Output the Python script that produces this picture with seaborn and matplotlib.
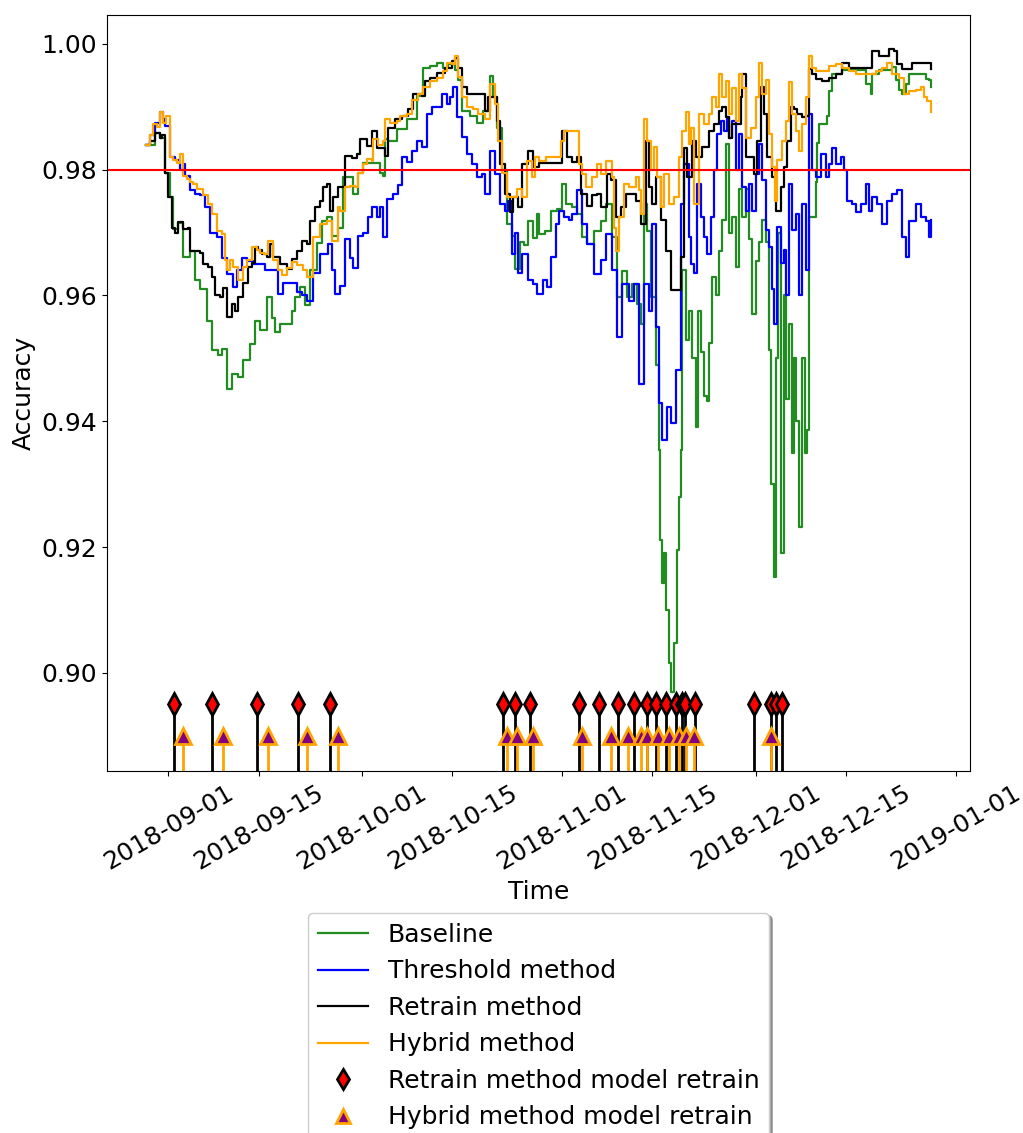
import numpy as np
import pandas as pd
import matplotlib
matplotlib.use("Agg")
import matplotlib.pyplot as plt
import matplotlib.dates as mdates
import seaborn as sns

# Rolling accuracy of the four strategies; times are days after 2018-09-01
START = pd.Timestamp("2018-09-01")

baseline_days = [
    -3.40, -2.01, -1.24, -0.46, 0.31, 0.77, 1.55, 2.32, 3.40, 4.18,
    4.95, 6.03, 6.80, 7.73, 8.35, 9.12, 9.90, 10.82, 11.60, 12.68,
    13.45, 14.23, 15.31, 16.08, 16.55, 17.32, 18.40, 19.17, 19.64, 20.41,
    21.18, 21.96, 23.04, 23.81, 24.59, 25.36, 26.29, 27.06, 27.83, 28.61,
    29.38, 30.15, 31.70, 32.78, 33.25, 33.55, 34.02, 35.41, 36.96, 38.50,
    39.43, 40.51, 41.60, 42.52, 43.30, 44.38, 44.84, 45.46, 46.70, 47.78,
    48.71, 49.79, 50.25, 50.87, 51.65, 52.42, 53.19, 53.66, 54.43, 55.20,
    55.67, 56.44, 57.06, 57.52, 58.30, 59.38, 60.31, 61.08, 61.70, 62.63,
    63.40, 64.17, 64.95, 66.03, 67.11, 67.88, 68.35, 68.81, 69.58, 70.36,
    71.13, 71.90, 72.68, 73.29, 73.76, 74.22, 74.84, 75.62, 76.08, 76.23,
    76.54, 76.85, 77.16, 77.63, 77.93, 78.40, 78.86, 79.17, 79.48, 79.64,
    80.26, 80.72, 81.19, 81.80, 82.11, 82.58, 83.04, 83.50, 83.81, 84.27,
    84.89, 85.36, 85.82, 86.44, 86.90, 87.37, 87.99, 88.45, 88.92, 89.53,
    90.00, 90.46, 91.08, 91.55, 92.01, 92.63, 93.09, 93.40, 93.87, 94.17,
    94.48, 94.95, 95.41, 95.72, 96.18, 96.64, 96.95, 97.26, 97.72, 98.19,
    98.65, 98.96, 99.27, 99.74, 100.36, 100.51, 100.82, 101.60, 102.06, 102.37,
    102.83, 103.61, 104.38, 105.46, 106.54, 107.47, 108.09, 108.86, 109.02, 110.10,
    111.18, 112.11, 112.73, 113.19, 113.65, 114.27, 114.73, 115.82, 116.74, 117.36,
    117.83, 118.14]
baseline_acc = [
    0.9840, 0.9859, 0.9850, 0.9794, 0.9756, 0.9705, 0.9715, 0.9661, 0.9671, 0.9624,
    0.9610, 0.9560, 0.9513, 0.9505, 0.9515, 0.9452, 0.9475, 0.9470, 0.9497, 0.9523,
    0.9560, 0.9545, 0.9597, 0.9565, 0.9542, 0.9555, 0.9555, 0.9575, 0.9597, 0.9613,
    0.9585, 0.9640, 0.9683, 0.9719, 0.9724, 0.9695, 0.9708, 0.9788, 0.9788, 0.9762,
    0.9795, 0.9810, 0.9810, 0.9795, 0.9790, 0.9849, 0.9845, 0.9865, 0.9880, 0.9917,
    0.9962, 0.9965, 0.9970, 0.9962, 0.9968, 0.9959, 0.9942, 0.9894, 0.9885, 0.9874,
    0.9894, 0.9949, 0.9915, 0.9867, 0.9800, 0.9714, 0.9695, 0.9642, 0.9685, 0.9680,
    0.9719, 0.9692, 0.9730, 0.9698, 0.9703, 0.9735, 0.9738, 0.9777, 0.9745, 0.9740,
    0.9730, 0.9693, 0.9682, 0.9703, 0.9719, 0.9746, 0.9746, 0.9693, 0.9597, 0.9639,
    0.9597, 0.9618, 0.9586, 0.9555, 0.9746, 0.9703, 0.9597, 0.9490, 0.9354, 0.9211,
    0.9143, 0.9190, 0.9100, 0.9016, 0.8970, 0.9048, 0.9195, 0.9280, 0.9354, 0.9640,
    0.9530, 0.9576, 0.9500, 0.9391, 0.9575, 0.9510, 0.9440, 0.9433, 0.9525, 0.9630,
    0.9600, 0.9671, 0.9720, 0.9841, 0.9700, 0.9725, 0.9645, 0.9770, 0.9725, 0.9770,
    0.9690, 0.9571, 0.9655, 0.9685, 0.9720, 0.9685, 0.9513, 0.9300, 0.9153, 0.9500,
    0.9700, 0.9190, 0.9600, 0.9435, 0.9555, 0.9350, 0.9500, 0.9400, 0.9232, 0.9500,
    0.9350, 0.9386, 0.9724, 0.9724, 0.9780, 0.9842, 0.9873, 0.9873, 0.9885, 0.9925,
    0.9952, 0.9952, 0.9958, 0.9958, 0.9958, 0.9958, 0.9937, 0.9920, 0.9952, 0.9958,
    0.9958, 0.9963, 0.9942, 0.9926, 0.9920, 0.9937, 0.9952, 0.9952, 0.9952, 0.9944,
    0.9942, 0.9931]

threshold_days = [
    -3.40, -2.78, -2.01, -1.24, -0.77, -0.46, 0.31, 1.08, 1.86, 2.32,
    2.63, 3.40, 4.18, 4.95, 5.72, 6.49, 7.58, 8.35, 9.12, 10.05,
    10.67, 11.44, 12.22, 13.14, 14.23, 15.00, 15.77, 17.01, 17.78, 19.17,
    19.95, 20.72, 21.49, 22.42, 23.50, 24.74, 25.36, 25.82, 26.60, 27.37,
    28.14, 28.61, 29.38, 30.15, 30.93, 31.54, 32.32, 32.78, 33.25, 33.86,
    34.79, 35.56, 36.18, 36.96, 37.73, 38.50, 39.28, 40.05, 40.82, 41.60,
    42.37, 43.14, 43.61, 44.07, 44.69, 45.46, 46.23, 47.01, 47.78, 48.55,
    49.02, 49.79, 50.56, 51.34, 52.11, 52.57, 53.19, 53.66, 54.12, 54.89,
    55.67, 56.44, 57.21, 57.99, 58.76, 59.38, 60.15, 60.62, 61.39, 62.16,
    62.63, 63.40, 64.17, 64.95, 66.03, 67.11, 67.88, 68.81, 69.58, 70.36,
    71.44, 72.21, 72.99, 73.76, 74.53, 75.00, 75.62, 76.08, 76.54, 77.32,
    77.93, 78.71, 79.48, 79.95, 80.72, 81.03, 81.50, 81.96, 82.58, 83.04,
    83.50, 84.12, 84.58, 85.05, 85.66, 86.13, 86.59, 86.90, 87.37, 87.99,
    88.45, 88.92, 89.53, 90.00, 90.46, 91.08, 91.55, 92.01, 92.63, 93.09,
    93.56, 93.87, 94.33, 94.95, 95.41, 95.72, 96.18, 96.64, 97.26, 97.72,
    98.19, 98.81, 99.27, 99.74, 100.36, 101.13, 101.91, 102.37, 102.83, 103.45,
    104.22, 104.69, 105.15, 105.92, 106.54, 107.31, 108.09, 108.55, 109.02, 109.79,
    110.56, 111.33, 112.11, 112.88, 113.65, 114.27, 114.73, 115.82, 116.59, 117.36,
    117.83, 118.14]
threshold_acc = [
    0.9840, 0.9855, 0.9875, 0.9891, 0.9880, 0.9870, 0.9820, 0.9815, 0.9799, 0.9809,
    0.9790, 0.9767, 0.9762, 0.9760, 0.9740, 0.9700, 0.9693, 0.9660, 0.9634, 0.9613,
    0.9640, 0.9660, 0.9655, 0.9650, 0.9650, 0.9640, 0.9640, 0.9603, 0.9620, 0.9620,
    0.9605, 0.9600, 0.9592, 0.9635, 0.9666, 0.9682, 0.9640, 0.9603, 0.9615, 0.9690,
    0.9660, 0.9643, 0.9695, 0.9700, 0.9724, 0.9740, 0.9724, 0.9740, 0.9693, 0.9753,
    0.9761, 0.9776, 0.9820, 0.9812, 0.9830, 0.9846, 0.9836, 0.9888, 0.9899, 0.9899,
    0.9920, 0.9904, 0.9915, 0.9931, 0.9883, 0.9852, 0.9825, 0.9809, 0.9788, 0.9793,
    0.9761, 0.9830, 0.9793, 0.9746, 0.9735, 0.9750, 0.9666, 0.9700, 0.9635, 0.9666,
    0.9624, 0.9619, 0.9603, 0.9624, 0.9614, 0.9661, 0.9714, 0.9735, 0.9724, 0.9720,
    0.9730, 0.9767, 0.9714, 0.9682, 0.9634, 0.9656, 0.9698, 0.9640, 0.9534, 0.9618,
    0.9592, 0.9618, 0.9460, 0.9618, 0.9576, 0.9714, 0.9550, 0.9429, 0.9370, 0.9423,
    0.9397, 0.9481, 0.9746, 0.9809, 0.9693, 0.9650, 0.9635, 0.9777, 0.9725, 0.9693,
    0.9666, 0.9725, 0.9799, 0.9857, 0.9878, 0.9862, 0.9883, 0.9851, 0.9878, 0.9799,
    0.9857, 0.9772, 0.9735, 0.9777, 0.9735, 0.9793, 0.9841, 0.9783, 0.9704, 0.9677,
    0.9610, 0.9555, 0.9709, 0.9651, 0.9672, 0.9600, 0.9777, 0.9704, 0.9730, 0.9600,
    0.9746, 0.9640, 0.9888, 0.9799, 0.9788, 0.9825, 0.9788, 0.9809, 0.9835, 0.9809,
    0.9820, 0.9799, 0.9751, 0.9746, 0.9732, 0.9746, 0.9777, 0.9735, 0.9756, 0.9746,
    0.9714, 0.9751, 0.9762, 0.9767, 0.9693, 0.9661, 0.9719, 0.9746, 0.9725, 0.9719,
    0.9693, 0.9720]

retrain_days = [
    -3.40, -2.78, -2.01, -1.24, -0.93, -0.46, 0.00, 0.62, 1.08, 1.55,
    2.32, 3.09, 3.40, 4.95, 5.41, 6.19, 6.80, 7.27, 8.04, 8.50,
    9.12, 9.90, 10.36, 10.82, 11.60, 12.37, 12.99, 13.45, 13.92, 14.54,
    15.31, 15.77, 16.24, 17.32, 18.40, 19.17, 19.95, 20.72, 21.49, 21.96,
    22.73, 23.50, 23.97, 24.59, 25.05, 25.51, 26.29, 27.37, 28.45, 29.23,
    29.69, 30.77, 31.54, 32.32, 33.55, 34.02, 35.10, 36.18, 37.11, 37.88,
    39.28, 39.74, 40.51, 41.60, 42.83, 43.91, 44.38, 44.84, 45.46, 46.23,
    47.16, 48.55, 49.02, 49.48, 50.25, 50.87, 51.34, 52.11, 52.88, 53.35,
    54.12, 54.89, 55.67, 56.44, 57.52, 59.07, 60.15, 61.08, 61.85, 62.63,
    63.40, 64.02, 64.95, 65.72, 66.49, 67.11, 68.04, 68.66, 69.43, 70.20,
    70.97, 71.90, 72.52, 73.29, 74.07, 74.53, 75.00, 75.62, 76.39, 77.16,
    77.93, 78.86, 79.48, 79.95, 80.41, 81.19, 81.80, 82.73, 83.81, 84.58,
    85.36, 85.82, 86.44, 86.90, 87.37, 87.99, 88.76, 88.92, 89.53, 90.00,
    90.77, 91.24, 91.85, 92.32, 92.78, 93.56, 94.17, 94.95, 95.41, 95.87,
    96.49, 96.95, 97.41, 98.19, 98.81, 99.27, 99.74, 100.36, 101.29, 102.37,
    103.45, 104.38, 105.46, 106.54, 108.55, 109.02, 110.10, 111.18, 111.64, 112.42,
    112.88, 113.65, 114.73, 115.20, 116.28, 117.83, 118.14]
retrain_acc = [
    0.9840, 0.9845, 0.9859, 0.9850, 0.9855, 0.9794, 0.9756, 0.9708, 0.9700, 0.9717,
    0.9705, 0.9708, 0.9671, 0.9668, 0.9650, 0.9645, 0.9629, 0.9600, 0.9597, 0.9612,
    0.9566, 0.9587, 0.9575, 0.9597, 0.9620, 0.9645, 0.9652, 0.9677, 0.9672, 0.9666,
    0.9661, 0.9682, 0.9661, 0.9650, 0.9642, 0.9658, 0.9671, 0.9687, 0.9682, 0.9719,
    0.9740, 0.9751, 0.9772, 0.9777, 0.9735, 0.9757, 0.9772, 0.9822, 0.9819, 0.9825,
    0.9849, 0.9838, 0.9862, 0.9835, 0.9822, 0.9867, 0.9880, 0.9886, 0.9896, 0.9920,
    0.9917, 0.9941, 0.9946, 0.9954, 0.9962, 0.9973, 0.9978, 0.9962, 0.9931, 0.9920,
    0.9920, 0.9920, 0.9894, 0.9915, 0.9915, 0.9878, 0.9809, 0.9761, 0.9732, 0.9756,
    0.9740, 0.9809, 0.9830, 0.9804, 0.9810, 0.9810, 0.9810, 0.9862, 0.9820, 0.9812,
    0.9820, 0.9761, 0.9743, 0.9759, 0.9762, 0.9740, 0.9793, 0.9783, 0.9725, 0.9741,
    0.9761, 0.9761, 0.9751, 0.9714, 0.9846, 0.9772, 0.9746, 0.9788, 0.9720, 0.9671,
    0.9608, 0.9608, 0.9661, 0.9835, 0.9788, 0.9846, 0.9820, 0.9836, 0.9862, 0.9872,
    0.9894, 0.9899, 0.9883, 0.9851, 0.9872, 0.9872, 0.9915, 0.9952, 0.9820, 0.9820,
    0.9793, 0.9846, 0.9931, 0.9888, 0.9820, 0.9788, 0.9735, 0.9772, 0.9804, 0.9846,
    0.9899, 0.9896, 0.9888, 0.9883, 0.9886, 0.9960, 0.9952, 0.9944, 0.9941, 0.9946,
    0.9952, 0.9970, 0.9962, 0.9962, 0.9962, 0.9989, 0.9980, 0.9980, 0.9992, 0.9989,
    0.9968, 0.9960, 0.9960, 0.9970, 0.9970, 0.9970, 0.9960]

hybrid_days = [
    -3.40, -2.78, -2.32, -1.70, -1.24, -0.77, -0.31, 0.31, 0.77, 1.39,
    1.86, 2.32, 2.94, 3.40, 3.87, 4.48, 5.41, 6.19, 6.80, 7.58,
    8.35, 8.81, 9.12, 9.59, 10.05, 10.82, 11.60, 12.22, 12.99, 13.76,
    14.23, 14.84, 15.46, 16.24, 17.01, 17.63, 18.40, 19.17, 19.95, 20.88,
    21.49, 22.42, 23.50, 24.59, 25.36, 26.29, 26.60, 27.37, 28.14, 28.92,
    29.38, 30.15, 30.77, 31.54, 31.70, 32.47, 33.25, 33.55, 34.33, 35.41,
    35.87, 36.96, 37.73, 38.66, 39.43, 40.51, 41.60, 42.52, 43.14, 43.91,
    44.38, 44.84, 45.46, 46.23, 47.16, 47.94, 49.02, 49.79, 50.56, 51.03,
    51.65, 52.42, 53.19, 53.97, 54.74, 55.51, 56.29, 56.75, 57.52, 58.60,
    59.53, 60.15, 60.92, 61.39, 62.47, 63.40, 63.71, 64.17, 64.79, 65.72,
    66.49, 67.11, 67.88, 68.35, 68.81, 69.12, 69.43, 69.89, 70.67, 71.44,
    72.52, 72.99, 73.29, 73.76, 74.22, 74.84, 75.31, 75.77, 76.39, 76.85,
    77.63, 78.40, 79.17, 79.64, 80.26, 80.72, 81.03, 81.50, 81.80, 82.27,
    83.04, 83.81, 84.27, 84.89, 85.36, 85.82, 86.44, 86.90, 87.37, 87.99,
    88.45, 88.92, 89.53, 90.31, 91.08, 91.55, 92.01, 92.63, 93.09, 93.56,
    94.02, 94.33, 95.10, 95.72, 96.18, 96.64, 97.26, 97.72, 98.19, 98.81,
    99.27, 99.74, 100.36, 101.29, 102.37, 103.45, 104.38, 105.46, 106.54, 107.47,
    108.55, 109.63, 110.56, 111.33, 112.11, 112.73, 113.19, 113.96, 114.73, 115.82,
    116.59, 117.05, 117.52, 118.14]
hybrid_acc = [
    0.9840, 0.9855, 0.9872, 0.9868, 0.9891, 0.9875, 0.9885, 0.9820, 0.9815, 0.9810,
    0.9825, 0.9790, 0.9785, 0.9780, 0.9778, 0.9770, 0.9759, 0.9745, 0.9730, 0.9703,
    0.9698, 0.9656, 0.9640, 0.9656, 0.9645, 0.9624, 0.9645, 0.9656, 0.9677, 0.9672,
    0.9667, 0.9666, 0.9687, 0.9656, 0.9640, 0.9632, 0.9643, 0.9653, 0.9648, 0.9640,
    0.9629, 0.9693, 0.9714, 0.9719, 0.9687, 0.9740, 0.9735, 0.9772, 0.9774, 0.9772,
    0.9795, 0.9809, 0.9817, 0.9814, 0.9849, 0.9840, 0.9845, 0.9880, 0.9875, 0.9878,
    0.9886, 0.9889, 0.9910, 0.9920, 0.9931, 0.9941, 0.9946, 0.9957, 0.9970, 0.9968,
    0.9981, 0.9947, 0.9915, 0.9899, 0.9896, 0.9889, 0.9880, 0.9936, 0.9904, 0.9846,
    0.9794, 0.9756, 0.9756, 0.9770, 0.9756, 0.9814, 0.9788, 0.9820, 0.9814, 0.9820,
    0.9820, 0.9820, 0.9846, 0.9862, 0.9862, 0.9862, 0.9809, 0.9793, 0.9772, 0.9788,
    0.9809, 0.9793, 0.9814, 0.9814, 0.9788, 0.9708, 0.9671, 0.9724, 0.9777, 0.9772,
    0.9788, 0.9767, 0.9730, 0.9880, 0.9846, 0.9799, 0.9836, 0.9788, 0.9740, 0.9793,
    0.9746, 0.9756, 0.9820, 0.9862, 0.9891, 0.9841, 0.9866, 0.9746, 0.9746, 0.9888,
    0.9873, 0.9888, 0.9915, 0.9900, 0.9952, 0.9915, 0.9941, 0.9888, 0.9930, 0.9878,
    0.9952, 0.9930, 0.9851, 0.9867, 0.9915, 0.9970, 0.9920, 0.9942, 0.9857, 0.9804,
    0.9751, 0.9815, 0.9846, 0.9878, 0.9939, 0.9888, 0.9862, 0.9830, 0.9873, 0.9915,
    0.9981, 0.9962, 0.9957, 0.9957, 0.9965, 0.9968, 0.9962, 0.9957, 0.9952, 0.9952,
    0.9952, 0.9957, 0.9962, 0.9970, 0.9952, 0.9952, 0.9946, 0.9920, 0.9925, 0.9927,
    0.9931, 0.9915, 0.9909, 0.9891]

# Moments at which each method retrained its model
retrain_event_days = [0.93, 6.80, 13.76, 20.10, 25.05, 51.80, 53.66, 55.98,
                      63.71, 66.80, 69.74, 72.21, 74.22, 75.62, 77.16, 78.71,
                      79.64, 80.10, 81.65, 90.77, 93.40, 94.17, 95.10]
hybrid_event_days = [2.32, 8.50, 15.46, 21.49, 26.29, 52.42, 53.97, 56.44,
                     64.17, 68.66, 71.28, 73.29, 74.22, 75.93, 77.63, 79.17,
                     80.26, 81.50, 93.40]

ACC_THRESHOLD = 0.98
RETRAIN_MARK = 0.895
HYBRID_MARK = 0.890
Y_RANGE = (0.8844, 1.0046)

series_labels = ["Baseline", "Threshold method", "Retrain method", "Hybrid method"]
series_colors = ["forestgreen", "blue", "black", "orange"]


def to_time(days):
    return START + pd.to_timedelta(np.asarray(days, dtype=float), unit="D")


plt.rcParams["font.size"] = 18
fig = plt.figure(figsize=(10.23, 11.33), dpi=100)
ax = fig.add_axes([0.1046, 0.3195, 0.8436, 0.6673])

series = [(baseline_days, baseline_acc), (threshold_days, threshold_acc),
          (retrain_days, retrain_acc), (hybrid_days, hybrid_acc)]
for (d, v), lab, col in zip(series, series_labels, series_colors):
    sns.lineplot(x=to_time(d), y=v, ax=ax, color=col, label=lab,
                 linewidth=1.6, estimator=None, sort=False,
                 drawstyle="steps-post")

ax.axhline(ACC_THRESHOLD, color="red", linewidth=1.5)

# Retrain events: stems from the bottom with a marker on top
rt = to_time(retrain_event_days)
ax.vlines(rt, Y_RANGE[0] - 0.01, RETRAIN_MARK, colors="black", linewidth=2)
ax.plot(rt, np.full(len(rt), RETRAIN_MARK), linestyle="none", marker="d",
        markersize=11, markerfacecolor="red", markeredgecolor="black",
        markeredgewidth=2, label="Retrain method model retrain")

ht = to_time(hybrid_event_days)
ax.vlines(ht, Y_RANGE[0] - 0.01, HYBRID_MARK, colors="orange", linewidth=2)
ax.plot(ht, np.full(len(ht), HYBRID_MARK), linestyle="none", marker="^",
        markersize=11, markerfacecolor="purple", markeredgecolor="orange",
        markeredgewidth=2, label="Hybrid method model retrain")

ax.set_ylim(*Y_RANGE)
ax.xaxis.set_major_locator(mdates.DayLocator(bymonthday=[1, 15]))
ax.xaxis.set_major_formatter(mdates.DateFormatter("%Y-%m-%d"))
plt.setp(ax.get_xticklabels(), rotation=30)
ax.set_yticks([0.90, 0.92, 0.94, 0.96, 0.98, 1.00])
ax.set_yticklabels(["0.90", "0.92", "0.94", "0.96", "0.98", "1.00"])
ax.set_xlabel("Time")
ax.set_ylabel("Accuracy")

ax.legend(loc="upper center", bbox_to_anchor=(0.5, -0.171), shadow=True,
          handlelength=2.0, labelspacing=0.5, markerscale=0.9)

fig.savefig("out.png", dpi=100)
